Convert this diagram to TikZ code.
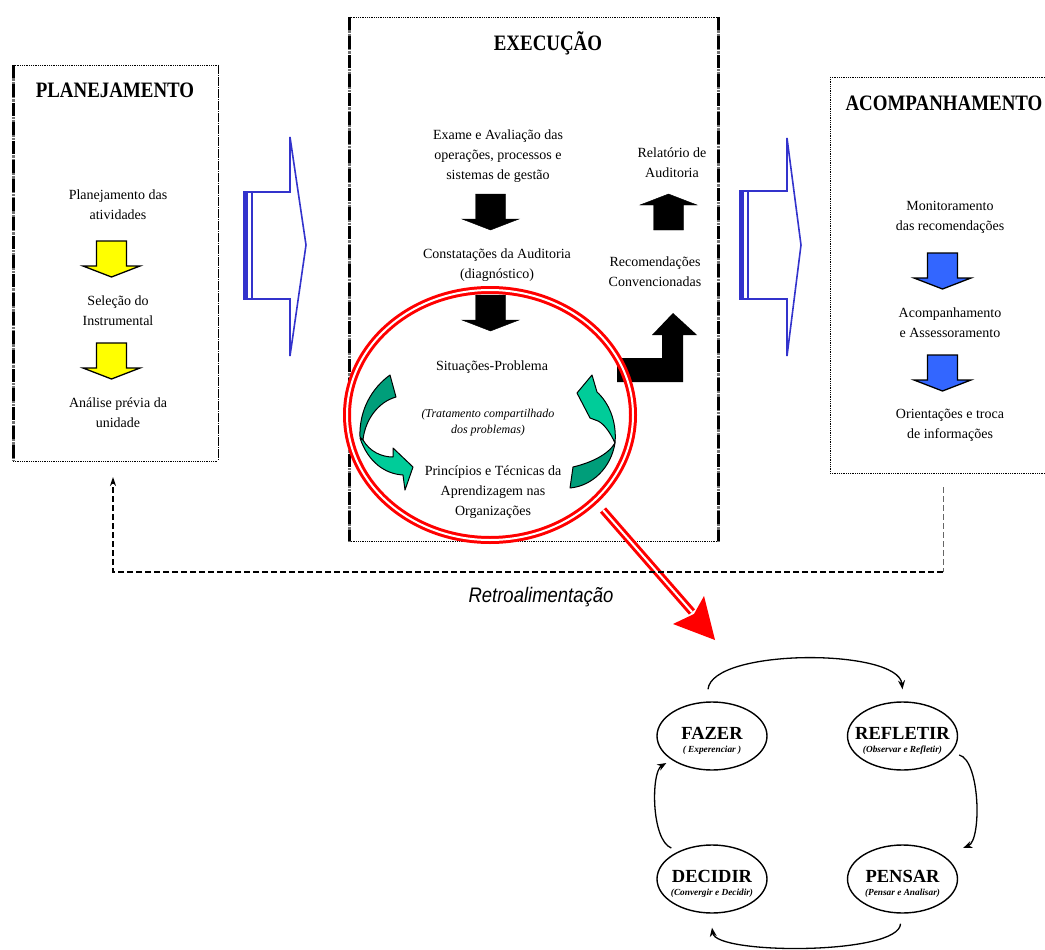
\documentclass[tikz,border=0pt]{standalone}
\usepackage{fontspec}
\setmainfont{Liberation Serif}
\newfontfamily\headfont[FakeStretch=0.86]{Liberation Serif}
\newfontfamily\retrofont[FakeStretch=0.88]{Liberation Sans}
\usetikzlibrary{arrows.meta,shapes.geometric,calc}

\definecolor{arrowyellow}{HTML}{FFFF00}
\definecolor{arrowblue}{HTML}{3366FF}
\definecolor{outlineblue}{HTML}{3333CC}
\definecolor{tealdark}{HTML}{009E7A}
\definecolor{teallight}{HTML}{00CC99}
\definecolor{ringred}{HTML}{FF0000}

\tikzset{
  body/.style={align=center, font=\fontsize{14}{20}\selectfont, inner sep=0pt},
  note/.style={align=center, font=\itshape\fontsize{12}{16}\selectfont, inner sep=0pt},
  head/.style={font=\headfont\bfseries\fontsize{22}{26}\selectfont, inner sep=0pt},
  region/.style={inner sep=0pt, outer sep=0pt, draw=none, rectangle},
  rimdots/.style={line width=0.8pt, densely dotted},
  rimthin/.style={line width=0.9pt, dash pattern=on 9pt off 1pt on 1pt off 1pt},
  rimhatch/.style={line width=3pt, black!55, dash pattern=on 0.7pt off 0.7pt},
  rimbar/.style={line width=3pt, dash pattern=on 13pt off 6pt},
  blockdown/.pic={
    \path[pic actions] (-15,0) -- (15,0) -- (15,25) -- (28.5,25) -- (0,36)
      -- (-28.5,25) -- (-15,25) -- cycle;
  },
  bigarrow/.style={draw=outlineblue, line width=1.6pt, line join=miter},
  stage/.style={ellipse, draw, line width=1.4pt, minimum width=110, minimum height=68, inner sep=0pt},
  stagetitle/.style={font=\bfseries\fontsize{18.5}{20}\selectfont, inner sep=0pt},
  stagesub/.style={font=\bfseries\itshape\fontsize{9.3}{10}\selectfont, inner sep=0pt},
  cycle/.style={line width=1.3pt, -{Stealth[length=9pt,width=7pt]}},
  ring/.style={ellipse, draw=ringred, line width=3pt, double=white, double distance=2pt,
    minimum width=286, minimum height=250, inner sep=0pt},
  feedback/.style={line width=1.4pt, dash pattern=on 6pt off 3pt},
  teal/.style={draw=black, line width=1pt, line join=round},
}

\begin{document}
\begin{tikzpicture}[x=1pt, y=-1pt]
\useasboundingbox (0,0) rectangle (1045,950);

% ---------- the three stage boxes ----------
\node[region, minimum width=205, minimum height=396] (plan) at (115.5,263) {};
\node[region, minimum width=369, minimum height=524] (exec) at (533.5,279) {};
\node[region, minimum width=215, minimum height=396] (acomp) at (937.5,275) {};

\draw[rimdots] (plan.north west) -- (plan.north east);
\draw[rimdots] (plan.south west) -- (plan.south east);
\draw[rimthin] (plan.north east) -- (plan.south east);
\draw[rimhatch] (plan.north west) -- (plan.south west);
\draw[rimbar]   (plan.north west) -- (plan.south west);

\draw[rimdots] (exec.north west) -- (exec.north east);
\draw[rimdots] (exec.south west) -- (exec.south east);
\draw[rimhatch] (exec.north west) -- (exec.south west);
\draw[rimbar]   (exec.north west) -- (exec.south west);
\draw[rimhatch] (exec.north east) -- (exec.south east);
\draw[rimbar]   (exec.north east) -- (exec.south east);

\draw[rimdots] (acomp.north west) -- (acomp.north east);
\draw[rimdots] (acomp.south west) -- (acomp.south east);
\draw[rimdots, line width=1pt] (acomp.north west) -- (acomp.south west);

% ---------- titles ----------
\node[head] (plantitle) at (115,90) {PLANEJAMENTO};
\node[head] (exectitle) at (548,43) {EXECUÇÃO};
\node[head] (acomptitle) at (944,103) {ACOMPANHAMENTO};

% ---------- hollow blue transition arrows ----------
\fill[outlineblue] (243,192) rectangle (248,299);
\draw[bigarrow] (243.8,192) -- (252,192) -- (252,299) -- (243.8,299) -- cycle;
\draw[bigarrow] (252,192) -- (290,192) -- (290,137) -- (306,245) -- (290,356)
  -- (290,299) -- (252,299);
\fill[outlineblue] (739,191) rectangle (744,299);
\draw[bigarrow] (739.8,191) -- (748,191) -- (748,299) -- (739.8,299) -- cycle;
\draw[bigarrow] (748,191) -- (787,191) -- (787,138) -- (801,245) -- (787,356)
  -- (787,299) -- (748,299);

% ---------- planning column ----------
\node[body] (p1) at (118,205) {Planejamento das\\atividades};
\node[body] (p2) at (118,311) {Seleção do\\Instrumental};
\node[body] (p3) at (118,413) {Análise prévia da\\unidade};
\pic[fill=arrowyellow, draw=black, line width=1.3pt] at (111.5,241) {blockdown};
\pic[fill=arrowyellow, draw=black, line width=1.3pt] at (111.5,343) {blockdown};

% ---------- execution column ----------
\node[body] (e1) at (498,156) {Exame e Avaliação das\\operações, processos e\\sistemas de gestão};
\node[body] (e2) at (497,265) {Constatações da Auditoria\\(diagnóstico)};
\node[body] (e3) at (492,367) {Situações-Problema};
\node[note] (e4) at (488,423) {(Tratamento compartilhado\\dos problemas)};
\node[body] (e5) at (493,492) {Princípios e Técnicas da\\Aprendizagem nas\\Organizações};
\node[body] (e6) at (672,163) {Relatório de\\Auditoria};
\node[body] (e7) at (655,272) {Recomendações\\Convencionadas};
\pic[fill=black, draw=black] at (490.5,194) {blockdown};
\pic[fill=black, draw=black] at (490.5,295) {blockdown};
\pic[fill=black, draw=black, yscale=-1] at (668.5,230) {blockdown};
\fill (617,358) -- (662,358) -- (662,335) -- (652,335) -- (673,313) -- (697,335)
  -- (683,335) -- (683,382) -- (617,382) -- cycle;

% ---------- shared treatment loop (two ribbon arrows) ----------
\filldraw[teal, fill=tealdark] (390,375) .. controls (372,388) and (359,410) .. (360,437)
  -- (363,440) .. controls (365,420) and (378,402) .. (396,397) -- cycle;
\filldraw[teal, fill=teallight] (363,440) .. controls (370,452) and (382,457) .. (393,457)
  -- (393,448) -- (413,467) -- (405,490) -- (403,475)
  .. controls (385,474) and (368,462) .. (360,438) -- cycle;
\filldraw[teal, fill=tealdark] (570,488) .. controls (592,486) and (611,468) .. (615,443)
  .. controls (608,455) and (590,463) .. (573,467) -- cycle;
\filldraw[teal, fill=teallight] (615,443) .. controls (610,432) and (604,424) .. (598,421)
  -- (590,418) -- (577,393) -- (592,375) -- (597,392)
  .. controls (608,402) and (617,420) .. (615,443) -- cycle;

% ---------- red magnifier ring ----------
\node[ring] (ring) at (490,415) {};
\coordinate (rstart) at (603,510);
\coordinate (rtip) at (715,640);
\draw[ringred, line width=3pt, double=white, double distance=2pt] (rstart) -- (692,612);
\fill[ringred] (rtip) -- (673,624) -- (694,614) -- (704,596) -- cycle;

% ---------- monitoring column ----------
\node[body] (a1) at (950,217) {Monitoramento\\das recomendações};
\node[body] (a2) at (950,323) {Acompanhamento\\e Assessoramento};
\node[body] (a3) at (950,425) {Orientações e troca\\de informações};
\pic[fill=arrowblue, draw=black, line width=1.3pt] at (942.5,253) {blockdown};
\pic[fill=arrowblue, draw=black, line width=1.3pt] at (942.5,355) {blockdown};

% ---------- feedback loop ----------
\coordinate (fbstart) at (943,487);
\coordinate (fbturn) at (943,572);
\coordinate (fbend) at (113,477);
\draw[line width=0.8pt, black!60, dash pattern=on 6pt off 3pt] (fbstart) -- (fbturn);
\draw[feedback, -{Stealth[length=9pt,width=6pt]}] (fbturn) -| (fbend);
\node[font=\retrofont\itshape\fontsize{21}{24}\selectfont, inner sep=0pt] (retro) at (541,597) {Retroalimentação};

% ---------- learning cycle ----------
\node[stage] (fazer) at (712,736) {};
\node[stage] (refletir) at (902.5,736) {};
\node[stage] (decidir) at (712,879) {};
\node[stage] (pensar) at (902.5,879) {};
\node[stagetitle] (fazer-t) at ($(fazer)+(0,-3)$) {FAZER};
\node[stagesub] (fazer-s) at ($(fazer)+(0,14)$) {( Experenciar )};
\node[stagetitle] (refletir-t) at ($(refletir)+(0,-3)$) {REFLETIR};
\node[stagesub] (refletir-s) at ($(refletir)+(0,14)$) {(Observar e Refletir)};
\node[stagetitle] (decidir-t) at ($(decidir)+(0,-3)$) {DECIDIR};
\node[stagesub] (decidir-s) at ($(decidir)+(0,14)$) {(Convergir e Decidir)};
\node[stagetitle] (pensar-t) at ($(pensar)+(0,-3)$) {PENSAR};
\node[stagesub] (pensar-s) at ($(pensar)+(0,14)$) {(Pensar e Analisar)};

\draw[cycle] ($(fazer.north)+(-4,-12)$) .. controls (712,648) and (898,648) .. ($(refletir.north)+(0,-12)$);
\draw[cycle] ($(refletir.east)+(1,19)$) .. controls (980,760) and (982,840) .. ($(pensar.east)+(5,-31)$);
\draw[cycle] ($(pensar.south)+(-2,10)$) .. controls (900,955) and (716,955) .. ($(decidir.south)+(0,14)$);
\draw[cycle] ($(decidir.west)+(15,-31)$) .. controls (651,840) and (651,772) .. ($(fazer.west)+(10,27)$);
\end{tikzpicture}
\end{document}
